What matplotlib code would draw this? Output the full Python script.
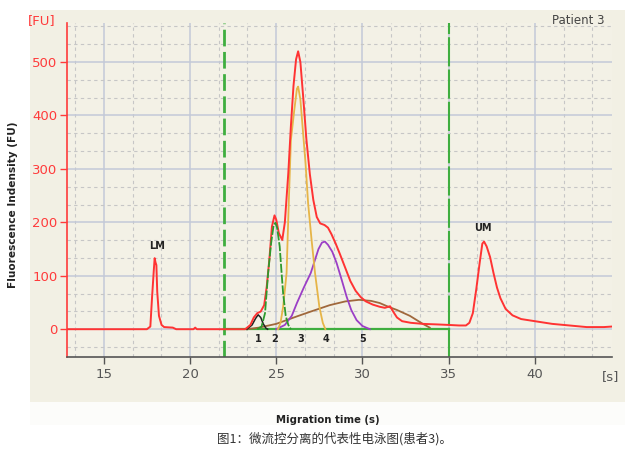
import matplotlib
matplotlib.use("Agg")
import matplotlib.pyplot as plt
from matplotlib.patches import Rectangle
from matplotlib.ticker import MultipleLocator

# ---- data ----
total_t = [12.85, 17.5, 17.7, 17.8, 17.9, 17.95, 18.0, 18.05, 18.1, 18.2, 18.35, 18.5, 19.0, 19.2,
           20.2, 20.3, 20.4, 23.2, 23.5, 23.7, 23.9, 24.1, 24.3, 24.45, 24.6, 24.75, 24.9, 25.0,
           25.15, 25.35, 25.5, 25.7, 25.85, 26.0, 26.15, 26.27, 26.4, 26.55, 26.75, 26.95, 27.15,
           27.35, 27.55, 27.8, 28.0, 28.2, 28.45, 28.7, 29.0, 29.3, 29.6, 29.9, 30.2, 30.6, 31.0,
           31.3, 31.6, 31.8, 32.0, 32.3, 32.8, 33.5, 34.3, 35.0, 35.6, 36.0, 36.2, 36.4, 36.6,
           36.8, 36.95, 37.05, 37.2, 37.4, 37.6, 37.8, 38.0, 38.3, 38.7, 39.2, 40.0, 41.0, 42.0,
           43.0, 44.0, 44.47]
total_v = [0, 0, 5, 60, 110, 133, 125, 120, 70, 25, 8, 4, 3, 0,
           0, 3, 0, 0, 8, 22, 30, 33, 45, 80, 130, 192, 213, 205,
           180, 167, 200, 292, 380, 455, 505, 520, 500, 440, 355, 290, 242,
           210, 198, 195, 190, 178, 160, 140, 115, 90, 72, 60, 52, 46, 42,
           40, 43, 32, 22, 15, 12, 10, 9, 8, 7, 7, 12, 30, 75,
           125, 160, 164, 155, 135, 105, 78, 58, 38, 26, 19, 15, 10, 7,
           4, 4, 5]

p1_t = [23.3, 23.6, 23.8, 23.95, 24.1, 24.25, 24.4, 24.5]
p1_v = [0, 8, 20, 27, 22, 10, 2, 0]

p2_t = [23.9, 24.15, 24.35, 24.53, 24.7, 24.85, 24.95, 25.05, 25.2, 25.3, 25.4, 25.55, 25.7, 25.85]
p2_v = [0, 5, 30, 105, 160, 195, 199, 190, 155, 110, 67, 25, 8, 0]

p3_t = [25.1, 25.25, 25.4, 25.6, 25.72, 25.85, 26.05, 26.2, 26.27, 26.4, 26.55, 26.7, 26.85,
        27.05, 27.25, 27.5, 27.7, 27.85]
p3_v = [0, 12, 42, 105, 230, 354, 411, 450, 454, 430, 370, 310, 235,
        167, 105, 42, 12, 0]

p4_t = [25.0, 25.5, 25.9, 26.2, 26.6, 27.0, 27.25, 27.45, 27.65, 27.82, 28.0, 28.25, 28.5,
        28.8, 29.08, 29.35, 29.66, 30.0, 30.43]
p4_v = [0, 8, 25, 49, 78, 105, 130, 150, 162, 164, 158, 145, 124,
        92, 61, 36, 17, 6, 0]

p5_t = [23.3, 24.0, 25.0, 26.2, 27.0, 28.1, 29.0, 29.8, 30.5, 31.0, 31.5, 32.0, 32.75, 33.15,
        33.5, 33.9]
p5_v = [0, 3, 10, 24, 33, 45, 52, 55, 53, 49, 42, 36, 25, 17, 10, 3]

peak_labels = ["1", "2", "3", "4", "5"]
peak_label_t = [23.95, 24.88, 26.43, 27.88, 30.0]
marker_labels = ["LM", "UM"]
marker_t = [18.07, 37.0]
marker_v = [155, 190]
window_t = [22.0, 35.0]
x_ticks = [15, 20, 25, 30, 35, 40]
y_ticks = [0, 100, 200, 300, 400, 500]

# ---- figure ----
fig = plt.figure(figsize=(6.4, 4.58), dpi=100)
fig.patch.set_facecolor("white")
W, H = 640, 458
fig.patches.append(Rectangle((30 / W, (H - 402) / H), (625 - 30) / W, (402 - 10) / H,
                             transform=fig.transFigure, facecolor="#f2f0e4",
                             edgecolor="none", zorder=-10))
fig.patches.append(Rectangle((30 / W, (H - 425) / H), (625 - 30) / W, 23 / H,
                             transform=fig.transFigure, facecolor="#fcfcfa",
                             edgecolor="none", zorder=-10))

ax = fig.add_axes([66.7 / W, (H - 357) / H, (612 - 66.7) / W, (357 - 23) / H])
ax.set_zorder(1)
ax.set_facecolor("#f3f1e6")
ax.set_xlim(12.85, 44.47)
ax.set_ylim(-52, 573)

ax.xaxis.set_major_locator(MultipleLocator(5))
ax.xaxis.set_minor_locator(MultipleLocator(5 / 3))
ax.yaxis.set_major_locator(MultipleLocator(100))
ax.yaxis.set_minor_locator(MultipleLocator(100 / 3))
ax.set_xticks(x_ticks)
ax.set_yticks(y_ticks)

ax.grid(which="major", color="#c3c9d8", lw=1.1, ls="-", zorder=0)
ax.grid(which="minor", color="#c6c6c6", lw=0.8, ls=(0, (3, 3)), zorder=0)
ax.set_axisbelow(True)

for s in ["top", "right"]:
    ax.spines[s].set_visible(False)
ax.spines["left"].set_color("#ff3b3b")
ax.spines["left"].set_linewidth(1.2)
ax.spines["bottom"].set_color("#555555")
ax.spines["bottom"].set_linewidth(1.2)

ax.tick_params(axis="y", which="major", colors="#ff3b3b", labelcolor="#ff3b3b",
               labelsize=9.5, length=5, width=1, pad=1.5)
ax.tick_params(axis="y", which="minor", length=0)
ax.tick_params(axis="x", which="major", colors="#555555", labelcolor="#555555",
               labelsize=9.5, length=5, width=1, pad=3)
ax.tick_params(axis="x", which="minor", length=0)

# window lines
ax.axvline(window_t[0], color="#3fae3f", lw=2, ls=(0, (6, 2)), zorder=2)
ax.axvline(window_t[1], color="#3fae3f", lw=1.5, ls=(0, (14, 1.5)), zorder=2)
ax.plot(window_t, [0, 0], color="#3fae3f", lw=1.6, zorder=2)

# component peaks
ax.plot(p5_t, p5_v, color="#a0683c", lw=1.3, zorder=3)
ax.plot(p4_t, p4_v, color="#9b3fc6", lw=1.3, zorder=3)
ax.plot(p3_t, p3_v, color="#e6b548", lw=1.3, zorder=3)
ax.plot(p1_t, p1_v, color="#222222", lw=1.1, zorder=3)
# total trace
ax.plot(total_t, total_v, color="#ff3333", lw=1.4, zorder=4)
ax.plot(p2_t, p2_v, color="#2e9a2e", lw=1.3, ls=(0, (5, 1)), zorder=5)

for lab, t in zip(peak_labels, peak_label_t):
    ax.text(t, -19, lab, ha="center", va="center", fontsize=7, fontweight="bold",
            color="#222222", zorder=6)
for lab, t, v in zip(marker_labels, marker_t, marker_v):
    ax.text(t, v, lab, ha="center", va="center", fontsize=7, fontweight="bold",
            color="#222222", zorder=6)

# texts
fig.text(42 / W, 1 - 21 / H, "[FU]", color="#ff3b3b", fontsize=9.5, ha="center", va="center")
fig.text(611 / W, 1 - 377 / H, "[s]", color="#555555", fontsize=9.5, ha="center", va="center")
fig.text(605 / W, 1 - 20 / H, "Patient 3", color="#444444", fontsize=8.5, ha="right", va="center")
fig.text(13 / W, 1 - 205 / H, "Fluorescence Indensity (FU)", rotation=90, fontsize=7.6,
         fontweight="bold", color="#222222", ha="center", va="center")
fig.text(328 / W, 1 - 420 / H, "Migration time (s)", fontsize=7.3, fontweight="bold",
         color="#222222", ha="center", va="center")
fig.text(335 / W, 1 - 439 / H, "图1：微流控分离的代表性电泳图(患者3)。", fontsize=9,
         color="#333333", ha="center", va="center",
         family=["Noto Sans CJK SC", "DejaVu Sans"])

fig.savefig("out.png", dpi=100)
